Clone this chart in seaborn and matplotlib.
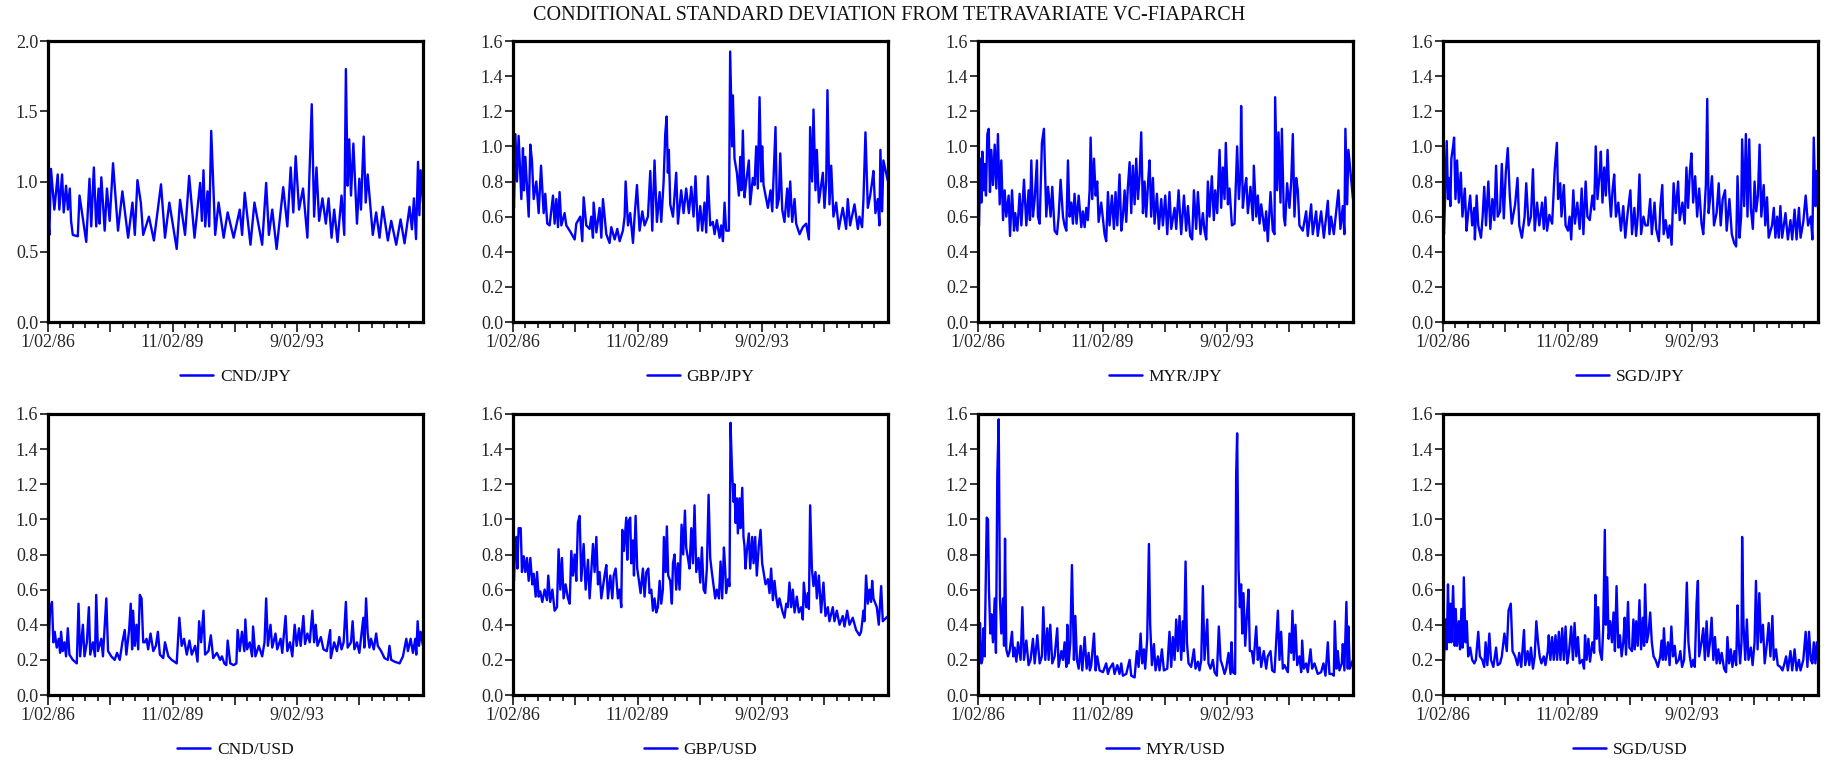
import numpy as np
import matplotlib
matplotlib.use("Agg")
import matplotlib.pyplot as plt
from matplotlib.ticker import FixedLocator, FuncFormatter, MultipleLocator
import seaborn as sns

# Observation index (business days from 1/02/86) and conditional standard deviations
cnd_jpy_obs = [0, 11, 24, 51, 78, 91, 113, 126, 145, 160, 175, 185, 199, 239, 253, 307, 333, 347, 368, 387, 406, 414, 428, 455, 473, 495, 522, 562, 597, 643, 678, 697, 718, 745, 764, 810, 850, 907, 939, 974, 1033, 1060, 1100, 1133, 1176, 1221, 1235, 1248, 1262, 1280, 1294, 1310, 1342, 1369, 1410, 1442, 1490, 1539, 1558, 1579, 1625, 1657, 1719, 1751, 1773, 1800, 1835, 1888, 1921, 1948, 1969, 1988, 2015, 2047, 2082, 2117, 2136, 2155, 2176, 2203, 2230, 2252, 2276, 2297, 2324, 2356, 2378, 2391, 2405, 2418, 2432, 2451, 2480, 2499, 2512, 2534, 2550, 2566, 2607, 2634, 2661, 2687, 2728, 2755, 2795, 2830, 2862, 2902, 2921, 2937, 2954, 2970, 2981, 2991, 3010]
cnd_jpy_sd = [0.76, 0.62, 1.09, 0.80, 1.05, 0.80, 1.05, 0.78, 0.97, 0.80, 0.95, 0.72, 0.62, 0.61, 0.90, 0.57, 1.02, 0.68, 1.10, 0.68, 0.95, 0.70, 1.03, 0.65, 0.95, 0.72, 1.13, 0.65, 0.93, 0.60, 0.85, 0.62, 1.01, 0.85, 0.62, 0.75, 0.58, 0.98, 0.60, 0.85, 0.52, 0.87, 0.62, 1.04, 0.60, 0.99, 0.72, 1.08, 0.68, 0.93, 0.68, 1.36, 0.62, 0.85, 0.60, 0.78, 0.60, 0.80, 0.62, 0.92, 0.55, 0.85, 0.55, 0.99, 0.62, 0.80, 0.52, 0.96, 0.68, 1.10, 0.78, 1.18, 0.80, 0.95, 0.60, 1.55, 0.75, 1.10, 0.72, 0.88, 0.70, 0.88, 0.60, 0.80, 0.57, 0.90, 0.62, 1.80, 0.97, 1.30, 0.90, 1.27, 0.70, 1.02, 0.80, 1.32, 0.85, 1.05, 0.62, 0.78, 0.60, 0.82, 0.58, 0.72, 0.55, 0.73, 0.56, 0.82, 0.66, 0.88, 0.59, 1.14, 0.76, 1.08, 0.85]

gbp_jpy_obs = [0, 8, 19, 32, 45, 67, 80, 88, 99, 126, 139, 152, 166, 187, 206, 225, 246, 259, 275, 294, 321, 334, 348, 361, 374, 388, 414, 428, 455, 495, 508, 540, 556, 567, 588, 615, 628, 642, 647, 669, 695, 709, 722, 749, 775, 789, 816, 837, 856, 882, 896, 904, 923, 941, 963, 976, 995, 1016, 1038, 1056, 1083, 1102, 1118, 1136, 1155, 1177, 1190, 1209, 1222, 1233, 1243, 1251, 1262, 1284, 1310, 1324, 1350, 1369, 1390, 1412, 1431, 1449, 1465, 1484, 1503, 1519, 1537, 1551, 1564, 1583, 1604, 1618, 1636, 1658, 1671, 1685, 1698, 1711, 1733, 1743, 1759, 1765, 1778, 1797, 1813, 1824, 1834, 1845, 1858, 1872, 1893, 1904, 1925, 1939, 1952, 1965, 1979, 1992, 2000, 2011, 2027, 2046, 2067, 2081, 2107, 2118, 2134, 2145, 2161, 2179, 2201, 2211, 2225, 2241, 2260, 2273, 2300, 2326, 2353, 2375, 2385, 2401, 2412, 2428, 2439, 2455, 2487, 2500, 2514, 2524, 2540, 2554, 2572, 2594, 2615, 2647, 2674, 2687, 2706, 2741, 2768, 2781, 2802, 2813, 2829, 2848, 2867, 2883, 2893, 2909, 2928, 2941, 2949, 2963, 2973, 3010]
gbp_jpy_sd = [0.70, 0.65, 1.07, 0.80, 1.06, 0.70, 0.99, 0.75, 0.94, 0.60, 1.01, 0.92, 0.70, 0.80, 0.62, 0.89, 0.62, 0.73, 0.56, 0.55, 0.72, 0.56, 0.70, 0.54, 0.74, 0.55, 0.62, 0.55, 0.52, 0.47, 0.56, 0.60, 0.46, 0.71, 0.55, 0.53, 0.60, 0.48, 0.68, 0.51, 0.65, 0.48, 0.70, 0.50, 0.45, 0.54, 0.47, 0.53, 0.46, 0.52, 0.60, 0.80, 0.55, 0.62, 0.45, 0.60, 0.78, 0.52, 0.63, 0.55, 0.60, 0.86, 0.52, 0.92, 0.57, 0.74, 0.57, 0.80, 1.07, 1.17, 0.85, 0.98, 0.67, 0.60, 0.85, 0.56, 0.75, 0.62, 0.76, 0.62, 0.77, 0.60, 0.83, 0.52, 0.66, 0.52, 0.68, 0.51, 0.83, 0.55, 0.57, 0.50, 0.58, 0.48, 0.55, 0.46, 0.68, 0.52, 0.52, 1.54, 1.00, 1.29, 0.93, 0.85, 0.72, 0.94, 0.75, 1.09, 0.71, 0.80, 0.92, 0.67, 0.82, 0.78, 1.00, 0.76, 1.28, 0.80, 1.00, 0.78, 0.72, 0.65, 0.75, 0.63, 1.11, 0.65, 0.70, 0.96, 0.64, 0.57, 0.76, 0.60, 0.80, 0.57, 0.70, 0.56, 0.50, 0.54, 0.56, 0.47, 1.11, 0.80, 1.21, 0.75, 0.98, 0.68, 0.85, 0.65, 0.80, 1.32, 0.67, 0.89, 0.60, 0.68, 0.53, 0.65, 0.53, 0.70, 0.55, 0.67, 0.53, 0.60, 0.54, 0.70, 1.08, 0.65, 0.72, 0.80, 0.86, 0.62, 0.70, 0.55, 0.98, 0.63, 0.92, 0.80]

myr_jpy_obs = [0, 8, 19, 27, 35, 45, 53, 64, 75, 86, 96, 107, 120, 134, 147, 160, 174, 187, 201, 214, 227, 246, 257, 273, 289, 299, 316, 334, 348, 369, 388, 406, 417, 428, 441, 455, 473, 481, 495, 513, 529, 548, 562, 583, 596, 615, 634, 647, 663, 682, 695, 709, 722, 735, 749, 762, 775, 791, 808, 829, 842, 856, 869, 882, 896, 904, 917, 931, 944, 957, 968, 989, 1016, 1029, 1043, 1056, 1075, 1091, 1104, 1118, 1136, 1150, 1163, 1177, 1190, 1203, 1217, 1230, 1243, 1257, 1270, 1284, 1297, 1310, 1324, 1337, 1350, 1364, 1377, 1390, 1404, 1417, 1436, 1452, 1471, 1484, 1503, 1519, 1537, 1551, 1578, 1591, 1610, 1631, 1653, 1671, 1685, 1703, 1719, 1733, 1751, 1765, 1786, 1805, 1818, 1832, 1845, 1858, 1877, 1893, 1904, 1920, 1939, 1952, 1965, 1979, 1989, 2006, 2019, 2038, 2059, 2080, 2094, 2107, 2112, 2126, 2139, 2153, 2166, 2187, 2206, 2214, 2233, 2246, 2260, 2273, 2300, 2313, 2326, 2348, 2366, 2380, 2385, 2401, 2412, 2428, 2439, 2455, 2465, 2481, 2500, 2514, 2527, 2540, 2554, 2567, 2580, 2607, 2634, 2647, 2674, 2687, 2714, 2727, 2754, 2776, 2794, 2808, 2821, 2834, 2856, 2874, 2893, 2909, 2928, 2941, 2949, 2963, 2973, 3010]
myr_jpy_sd = [0.60, 0.55, 0.93, 0.68, 0.97, 0.75, 0.90, 0.72, 1.07, 1.10, 0.74, 0.98, 0.78, 1.01, 0.76, 1.07, 0.67, 0.92, 0.58, 0.75, 0.60, 0.72, 0.49, 0.75, 0.52, 0.62, 0.52, 0.73, 0.55, 0.81, 0.55, 0.75, 0.58, 0.92, 0.60, 0.70, 0.92, 0.60, 0.56, 1.02, 1.10, 0.60, 0.77, 0.60, 0.77, 0.52, 0.50, 0.60, 0.81, 0.60, 0.55, 0.52, 0.92, 0.60, 0.68, 0.56, 0.73, 0.56, 0.72, 0.54, 0.63, 0.54, 0.65, 0.58, 0.75, 1.05, 0.70, 0.93, 0.72, 0.80, 0.57, 0.68, 0.50, 0.46, 0.74, 0.55, 0.72, 0.53, 0.74, 0.55, 0.84, 0.52, 0.60, 0.75, 0.57, 0.77, 0.91, 0.62, 0.89, 0.67, 0.93, 0.70, 0.83, 1.08, 0.62, 0.80, 0.60, 0.78, 0.92, 0.60, 0.82, 0.56, 0.73, 0.53, 0.70, 0.55, 0.72, 0.50, 0.74, 0.53, 0.65, 0.53, 0.75, 0.50, 0.72, 0.52, 0.66, 0.49, 0.47, 0.75, 0.53, 0.74, 0.50, 0.62, 0.52, 0.47, 0.80, 0.60, 0.83, 0.58, 0.75, 0.62, 0.98, 0.65, 0.88, 0.70, 1.02, 0.67, 0.76, 0.55, 0.56, 1.00, 0.70, 0.85, 1.23, 0.65, 0.75, 0.82, 0.62, 0.77, 0.58, 0.89, 0.60, 0.72, 0.56, 0.67, 0.52, 0.63, 0.46, 0.74, 0.52, 0.50, 1.28, 0.75, 1.08, 0.68, 1.10, 0.60, 0.55, 0.79, 0.65, 0.80, 1.07, 0.60, 0.82, 0.75, 0.55, 0.52, 0.63, 0.49, 0.67, 0.50, 0.63, 0.49, 0.63, 0.48, 0.60, 0.69, 0.50, 0.60, 0.50, 0.62, 0.75, 0.53, 0.66, 0.50, 1.10, 0.67, 0.98, 0.70]

sgd_jpy_obs = [0, 8, 22, 30, 40, 49, 59, 67, 81, 89, 100, 113, 127, 143, 156, 175, 189, 202, 218, 234, 251, 256, 270, 283, 305, 318, 331, 345, 364, 380, 396, 412, 426, 439, 458, 472, 488, 504, 520, 536, 552, 579, 598, 612, 633, 655, 668, 687, 706, 722, 736, 755, 773, 795, 809, 822, 835, 854, 876, 897, 914, 924, 941, 951, 970, 984, 1003, 1016, 1029, 1046, 1059, 1078, 1097, 1113, 1127, 1145, 1159, 1178, 1199, 1213, 1226, 1240, 1258, 1267, 1280, 1294, 1307, 1321, 1334, 1348, 1361, 1374, 1388, 1407, 1428, 1447, 1463, 1482, 1504, 1517, 1536, 1550, 1563, 1577, 1590, 1609, 1625, 1644, 1663, 1676, 1698, 1711, 1733, 1744, 1760, 1771, 1787, 1806, 1819, 1835, 1851, 1868, 1887, 1900, 1922, 1940, 1954, 1967, 1981, 1994, 2008, 2024, 2040, 2056, 2075, 2089, 2110, 2121, 2132, 2143, 2159, 2175, 2196, 2213, 2229, 2245, 2264, 2277, 2299, 2318, 2337, 2353, 2364, 2380, 2393, 2401, 2417, 2431, 2444, 2458, 2471, 2487, 2501, 2514, 2528, 2541, 2555, 2574, 2587, 2601, 2614, 2641, 2655, 2668, 2682, 2695, 2708, 2722, 2749, 2768, 2789, 2803, 2822, 2838, 2857, 2870, 2892, 2911, 2930, 2952, 2965, 2976, 2989, 3000, 3010]
sgd_jpy_sd = [0.63, 0.50, 0.83, 1.03, 0.70, 0.82, 0.66, 0.93, 1.00, 1.05, 0.70, 0.92, 0.68, 0.85, 0.60, 0.76, 0.52, 0.62, 0.72, 0.55, 0.65, 0.47, 0.72, 0.55, 0.48, 0.60, 0.77, 0.55, 0.80, 0.53, 0.70, 0.58, 0.89, 0.60, 0.63, 0.90, 0.59, 0.85, 0.99, 0.72, 0.56, 0.67, 0.82, 0.55, 0.48, 0.60, 0.79, 0.55, 0.60, 0.87, 0.52, 0.68, 0.55, 0.68, 0.53, 0.71, 0.52, 0.61, 0.56, 0.87, 1.02, 0.70, 0.79, 0.60, 0.78, 0.55, 0.52, 0.60, 0.47, 0.75, 0.56, 0.68, 0.53, 0.76, 0.50, 0.80, 0.60, 0.58, 0.72, 0.64, 1.00, 0.70, 0.85, 0.97, 0.68, 0.88, 0.72, 0.98, 0.75, 0.60, 0.75, 0.84, 0.60, 0.68, 0.52, 0.66, 0.48, 0.62, 0.75, 0.50, 0.65, 0.49, 0.60, 0.84, 0.50, 0.60, 0.55, 0.55, 0.70, 0.50, 0.68, 0.53, 0.46, 0.65, 0.78, 0.50, 0.58, 0.48, 0.55, 0.44, 0.79, 0.62, 0.80, 0.58, 0.68, 0.56, 0.88, 0.65, 0.85, 0.96, 0.68, 0.83, 0.60, 0.76, 0.56, 0.50, 0.78, 1.27, 0.62, 0.70, 0.83, 0.55, 0.62, 0.79, 0.55, 0.70, 0.75, 0.52, 0.70, 0.50, 0.45, 0.43, 0.83, 0.48, 0.60, 1.04, 0.66, 1.07, 0.60, 1.04, 0.65, 0.53, 0.80, 0.63, 0.72, 1.01, 0.60, 0.78, 0.55, 0.71, 0.48, 0.55, 0.65, 0.48, 0.60, 0.48, 0.66, 0.48, 0.62, 0.47, 0.58, 0.47, 0.64, 0.47, 0.65, 0.48, 0.57, 0.72, 0.55, 0.60, 0.47, 1.05, 0.66, 0.86, 0.65]

cnd_usd_obs = [0, 5, 16, 32, 43, 54, 70, 86, 97, 105, 118, 132, 145, 159, 172, 199, 231, 245, 258, 280, 293, 312, 328, 339, 360, 377, 387, 401, 428, 441, 468, 482, 508, 535, 554, 576, 597, 616, 629, 651, 664, 675, 683, 697, 710, 724, 737, 751, 764, 777, 791, 804, 823, 845, 866, 882, 898, 925, 939, 966, 993, 1033, 1054, 1073, 1092, 1114, 1135, 1154, 1181, 1200, 1213, 1229, 1248, 1261, 1288, 1307, 1326, 1355, 1382, 1396, 1415, 1431, 1442, 1463, 1490, 1512, 1522, 1539, 1557, 1576, 1584, 1598, 1619, 1638, 1646, 1665, 1692, 1719, 1738, 1751, 1765, 1786, 1800, 1826, 1840, 1867, 1880, 1907, 1921, 1942, 1961, 1980, 1996, 2015, 2028, 2050, 2063, 2082, 2101, 2122, 2136, 2149, 2163, 2190, 2211, 2238, 2265, 2270, 2297, 2319, 2338, 2356, 2373, 2391, 2405, 2432, 2445, 2459, 2480, 2499, 2531, 2539, 2553, 2566, 2580, 2593, 2615, 2634, 2647, 2674, 2701, 2728, 2741, 2755, 2781, 2822, 2849, 2876, 2889, 2911, 2929, 2948, 2956, 2967, 2978, 2991, 3010]
cnd_usd_sd = [0.30, 0.27, 0.48, 0.53, 0.30, 0.36, 0.27, 0.32, 0.24, 0.36, 0.25, 0.30, 0.22, 0.38, 0.23, 0.20, 0.18, 0.52, 0.22, 0.40, 0.22, 0.30, 0.50, 0.23, 0.30, 0.22, 0.57, 0.25, 0.32, 0.22, 0.55, 0.25, 0.22, 0.20, 0.24, 0.20, 0.30, 0.37, 0.23, 0.37, 0.52, 0.26, 0.48, 0.28, 0.40, 0.26, 0.57, 0.55, 0.30, 0.30, 0.32, 0.26, 0.35, 0.25, 0.28, 0.36, 0.23, 0.21, 0.30, 0.22, 0.20, 0.18, 0.44, 0.28, 0.32, 0.23, 0.31, 0.23, 0.28, 0.19, 0.42, 0.30, 0.48, 0.23, 0.25, 0.34, 0.21, 0.24, 0.20, 0.22, 0.18, 0.17, 0.31, 0.18, 0.17, 0.18, 0.37, 0.25, 0.36, 0.25, 0.43, 0.26, 0.30, 0.22, 0.39, 0.22, 0.28, 0.22, 0.30, 0.55, 0.28, 0.40, 0.27, 0.35, 0.26, 0.32, 0.24, 0.45, 0.25, 0.30, 0.22, 0.40, 0.28, 0.38, 0.28, 0.45, 0.29, 0.35, 0.30, 0.48, 0.30, 0.40, 0.28, 0.33, 0.26, 0.25, 0.37, 0.21, 0.30, 0.25, 0.33, 0.26, 0.30, 0.53, 0.27, 0.30, 0.42, 0.26, 0.30, 0.24, 0.44, 0.27, 0.55, 0.35, 0.27, 0.32, 0.26, 0.35, 0.28, 0.25, 0.21, 0.20, 0.28, 0.20, 0.19, 0.18, 0.22, 0.32, 0.25, 0.32, 0.24, 0.32, 0.23, 0.42, 0.28, 0.36, 0.28]

gbp_usd_obs = [0, 8, 16, 27, 35, 45, 62, 72, 86, 99, 112, 126, 139, 155, 166, 182, 193, 206, 219, 235, 254, 273, 283, 299, 316, 334, 353, 366, 380, 393, 406, 422, 441, 455, 468, 481, 495, 508, 521, 535, 548, 567, 583, 602, 615, 628, 642, 655, 669, 682, 695, 709, 735, 749, 762, 781, 797, 808, 824, 842, 856, 869, 877, 890, 901, 909, 917, 928, 941, 949, 963, 971, 984, 997, 1011, 1024, 1043, 1056, 1070, 1086, 1096, 1110, 1123, 1136, 1150, 1163, 1177, 1190, 1203, 1211, 1225, 1235, 1246, 1262, 1275, 1284, 1297, 1310, 1324, 1337, 1353, 1366, 1380, 1390, 1404, 1417, 1431, 1444, 1457, 1471, 1489, 1503, 1516, 1530, 1543, 1556, 1570, 1583, 1596, 1610, 1623, 1636, 1653, 1666, 1679, 1693, 1703, 1711, 1727, 1738, 1746, 1757, 1770, 1778, 1786, 1797, 1805, 1818, 1826, 1840, 1850, 1858, 1866, 1877, 1893, 1904, 1920, 1931, 1944, 1957, 1973, 1987, 2000, 2011, 2027, 2046, 2059, 2072, 2086, 2099, 2112, 2126, 2139, 2161, 2179, 2193, 2206, 2219, 2233, 2246, 2260, 2278, 2294, 2313, 2326, 2334, 2353, 2366, 2375, 2385, 2399, 2412, 2428, 2439, 2455, 2473, 2492, 2508, 2527, 2540, 2567, 2580, 2599, 2621, 2647, 2661, 2682, 2701, 2727, 2754, 2781, 2794, 2813, 2821, 2834, 2848, 2861, 2874, 2883, 2893, 2909, 2920, 2936, 2955, 2968, 3010]
gbp_usd_sd = [0.70, 0.65, 0.82, 0.90, 0.72, 0.95, 0.95, 0.70, 0.79, 0.70, 0.78, 0.65, 0.78, 0.63, 0.69, 0.56, 0.70, 0.56, 0.59, 0.53, 0.60, 0.54, 0.68, 0.53, 0.60, 0.48, 0.50, 0.83, 0.60, 0.78, 0.55, 0.63, 0.55, 0.52, 0.82, 0.68, 0.80, 0.65, 0.98, 1.02, 0.65, 0.86, 0.60, 0.77, 0.55, 0.70, 0.86, 0.70, 0.90, 0.63, 0.70, 0.55, 0.68, 0.74, 0.55, 0.68, 0.55, 0.68, 0.72, 0.55, 0.60, 0.50, 0.94, 0.82, 0.93, 1.01, 0.77, 0.99, 1.01, 0.75, 0.88, 0.68, 1.02, 0.72, 0.65, 0.58, 0.72, 0.56, 0.70, 0.72, 0.58, 0.60, 0.48, 0.55, 0.47, 0.50, 0.65, 0.52, 0.60, 0.90, 0.70, 0.96, 0.68, 0.65, 0.52, 0.75, 0.80, 0.60, 0.75, 0.60, 0.97, 0.80, 1.05, 0.84, 0.78, 0.72, 0.95, 0.75, 1.08, 0.70, 0.78, 0.64, 0.84, 0.60, 0.58, 0.72, 1.14, 0.78, 0.70, 0.62, 0.55, 0.60, 0.55, 0.76, 0.55, 0.84, 0.72, 0.58, 0.66, 0.62, 1.55, 1.30, 1.10, 1.20, 0.98, 1.12, 0.92, 1.12, 0.95, 1.18, 0.90, 0.85, 0.72, 0.82, 0.92, 0.72, 0.90, 0.75, 0.90, 0.68, 0.85, 0.94, 0.75, 0.70, 0.63, 0.66, 0.58, 0.72, 0.54, 0.65, 0.56, 0.50, 0.55, 0.48, 0.44, 0.52, 0.50, 0.64, 0.50, 0.60, 0.47, 0.56, 0.47, 0.50, 0.43, 0.64, 0.50, 0.58, 0.49, 1.08, 0.72, 0.62, 0.70, 0.55, 0.68, 0.47, 0.64, 0.45, 0.50, 0.42, 0.50, 0.42, 0.48, 0.40, 0.45, 0.39, 0.48, 0.40, 0.44, 0.37, 0.34, 0.36, 0.48, 0.42, 0.68, 0.52, 0.60, 0.53, 0.65, 0.55, 0.52, 0.50, 0.40, 0.62, 0.42, 0.45]

myr_usd_obs = [0, 8, 16, 27, 35, 45, 53, 62, 70, 80, 88, 99, 107, 120, 134, 144, 155, 166, 176, 187, 201, 209, 217, 227, 241, 254, 273, 283, 294, 308, 321, 342, 356, 369, 388, 406, 422, 441, 455, 476, 495, 513, 524, 540, 556, 567, 580, 596, 615, 636, 647, 669, 682, 695, 709, 717, 727, 741, 754, 770, 781, 794, 808, 824, 837, 856, 872, 888, 898, 909, 931, 944, 957, 976, 1003, 1029, 1043, 1056, 1083, 1096, 1118, 1136, 1150, 1163, 1190, 1217, 1230, 1257, 1275, 1289, 1305, 1318, 1332, 1342, 1358, 1372, 1382, 1396, 1412, 1425, 1444, 1457, 1476, 1492, 1519, 1537, 1551, 1564, 1578, 1591, 1604, 1618, 1631, 1645, 1653, 1666, 1677, 1690, 1711, 1733, 1746, 1765, 1778, 1792, 1805, 1818, 1840, 1850, 1866, 1885, 1899, 1917, 1933, 1947, 1965, 1979, 1992, 2011, 2027, 2035, 2046, 2064, 2072, 2080, 2091, 2102, 2112, 2121, 2131, 2145, 2158, 2171, 2182, 2198, 2211, 2233, 2246, 2260, 2273, 2294, 2313, 2326, 2348, 2361, 2380, 2393, 2407, 2420, 2433, 2447, 2460, 2487, 2500, 2514, 2524, 2535, 2548, 2562, 2580, 2594, 2602, 2615, 2634, 2647, 2669, 2682, 2701, 2727, 2754, 2773, 2789, 2808, 2821, 2840, 2856, 2864, 2877, 2888, 2901, 2920, 2928, 2941, 2957, 2968, 2973, 2984, 3010]
myr_usd_sd = [0.25, 0.20, 0.41, 0.18, 0.20, 0.38, 0.22, 0.66, 1.01, 1.00, 0.60, 0.35, 0.46, 0.30, 0.55, 0.24, 1.25, 1.57, 0.55, 0.35, 0.55, 0.28, 0.89, 0.26, 0.22, 0.25, 0.36, 0.22, 0.27, 0.19, 0.30, 0.20, 0.50, 0.20, 0.31, 0.17, 0.20, 0.32, 0.18, 0.34, 0.18, 0.22, 0.50, 0.20, 0.38, 0.20, 0.40, 0.18, 0.22, 0.38, 0.16, 0.25, 0.20, 0.30, 0.16, 0.40, 0.18, 0.30, 0.74, 0.20, 0.45, 0.20, 0.15, 0.28, 0.14, 0.33, 0.15, 0.24, 0.14, 0.17, 0.35, 0.14, 0.22, 0.14, 0.13, 0.18, 0.12, 0.15, 0.18, 0.12, 0.17, 0.12, 0.18, 0.11, 0.12, 0.20, 0.11, 0.10, 0.25, 0.16, 0.35, 0.18, 0.26, 0.15, 0.32, 0.86, 0.40, 0.17, 0.29, 0.14, 0.22, 0.14, 0.26, 0.14, 0.15, 0.36, 0.16, 0.33, 0.20, 0.43, 0.25, 0.45, 0.20, 0.42, 0.25, 0.76, 0.30, 0.18, 0.16, 0.26, 0.15, 0.19, 0.14, 0.20, 0.62, 0.20, 0.43, 0.18, 0.15, 0.20, 0.13, 0.11, 0.39, 0.20, 0.16, 0.12, 0.15, 0.24, 0.12, 0.30, 0.13, 0.12, 1.25, 1.49, 0.72, 0.50, 0.63, 0.35, 0.58, 0.28, 0.45, 0.60, 0.25, 0.25, 0.18, 0.39, 0.20, 0.27, 0.16, 0.25, 0.15, 0.22, 0.25, 0.14, 0.13, 0.30, 0.48, 0.20, 0.36, 0.15, 0.17, 0.13, 0.35, 0.24, 0.48, 0.20, 0.40, 0.17, 0.22, 0.13, 0.31, 0.15, 0.18, 0.13, 0.26, 0.15, 0.18, 0.12, 0.13, 0.18, 0.11, 0.30, 0.12, 0.12, 0.11, 0.42, 0.15, 0.25, 0.14, 0.18, 0.29, 0.14, 0.53, 0.15, 0.39, 0.15, 0.20]

sgd_usd_obs = [0, 8, 19, 30, 40, 49, 59, 67, 81, 94, 102, 113, 127, 137, 148, 159, 167, 181, 191, 202, 218, 234, 251, 264, 283, 296, 315, 331, 342, 356, 372, 385, 404, 426, 439, 458, 472, 493, 512, 526, 544, 558, 579, 598, 612, 628, 650, 660, 679, 693, 706, 722, 736, 749, 763, 776, 790, 809, 822, 841, 849, 862, 876, 889, 903, 916, 930, 943, 957, 970, 984, 997, 1011, 1029, 1043, 1056, 1070, 1083, 1097, 1118, 1132, 1140, 1153, 1167, 1180, 1199, 1213, 1223, 1234, 1245, 1259, 1275, 1286, 1299, 1307, 1318, 1329, 1342, 1356, 1369, 1380, 1393, 1407, 1420, 1434, 1447, 1458, 1469, 1485, 1496, 1517, 1528, 1539, 1550, 1563, 1577, 1590, 1604, 1614, 1622, 1636, 1649, 1663, 1676, 1690, 1706, 1725, 1744, 1754, 1765, 1773, 1787, 1806, 1819, 1833, 1846, 1860, 1873, 1892, 1905, 1919, 1935, 1946, 1957, 1970, 1981, 1994, 2008, 2021, 2035, 2046, 2056, 2075, 2089, 2102, 2116, 2129, 2143, 2156, 2170, 2183, 2196, 2210, 2223, 2237, 2256, 2272, 2283, 2296, 2310, 2323, 2339, 2353, 2364, 2374, 2385, 2396, 2401, 2412, 2426, 2439, 2452, 2471, 2485, 2501, 2512, 2525, 2539, 2552, 2568, 2582, 2601, 2614, 2628, 2644, 2655, 2673, 2687, 2708, 2725, 2741, 2754, 2768, 2789, 2803, 2822, 2838, 2857, 2870, 2892, 2911, 2925, 2938, 2952, 2965, 2976, 2989, 3000, 3010]
sgd_usd_sd = [0.28, 0.20, 0.43, 0.26, 0.63, 0.30, 0.52, 0.30, 0.62, 0.28, 0.49, 0.28, 0.42, 0.26, 0.49, 0.27, 0.67, 0.30, 0.42, 0.22, 0.27, 0.20, 0.18, 0.20, 0.36, 0.22, 0.20, 0.16, 0.30, 0.17, 0.35, 0.20, 0.16, 0.27, 0.17, 0.18, 0.22, 0.35, 0.25, 0.48, 0.52, 0.25, 0.22, 0.17, 0.24, 0.16, 0.37, 0.17, 0.25, 0.17, 0.27, 0.15, 0.22, 0.42, 0.30, 0.22, 0.18, 0.22, 0.17, 0.25, 0.34, 0.20, 0.33, 0.20, 0.34, 0.20, 0.36, 0.20, 0.38, 0.20, 0.39, 0.18, 0.24, 0.39, 0.20, 0.41, 0.22, 0.33, 0.18, 0.20, 0.15, 0.34, 0.20, 0.32, 0.19, 0.30, 0.24, 0.57, 0.32, 0.50, 0.25, 0.20, 0.38, 0.94, 0.40, 0.67, 0.32, 0.42, 0.30, 0.47, 0.25, 0.62, 0.27, 0.34, 0.22, 0.30, 0.44, 0.23, 0.53, 0.27, 0.25, 0.43, 0.26, 0.42, 0.28, 0.54, 0.26, 0.44, 0.28, 0.63, 0.30, 0.35, 0.47, 0.30, 0.22, 0.20, 0.16, 0.22, 0.31, 0.20, 0.38, 0.20, 0.30, 0.17, 0.39, 0.22, 0.28, 0.18, 0.20, 0.25, 0.16, 0.20, 0.38, 0.64, 0.30, 0.22, 0.16, 0.20, 0.16, 0.52, 0.65, 0.22, 0.30, 0.38, 0.20, 0.42, 0.22, 0.30, 0.44, 0.20, 0.33, 0.18, 0.26, 0.18, 0.24, 0.15, 0.13, 0.33, 0.18, 0.26, 0.16, 0.25, 0.17, 0.51, 0.30, 0.18, 0.30, 0.90, 0.40, 0.20, 0.43, 0.20, 0.27, 0.17, 0.30, 0.65, 0.26, 0.58, 0.30, 0.40, 0.18, 0.30, 0.41, 0.22, 0.45, 0.20, 0.26, 0.17, 0.16, 0.14, 0.18, 0.22, 0.14, 0.25, 0.14, 0.26, 0.14, 0.20, 0.14, 0.20, 0.36, 0.16, 0.36, 0.20, 0.18, 0.30, 0.18, 0.30, 0.20]

pair_names = ["CND/JPY", "GBP/JPY", "MYR/JPY", "SGD/JPY",
              "CND/USD", "GBP/USD", "MYR/USD", "SGD/USD"]
date_labels = {0: "1/02/86", 1000: "11/02/89", 2000: "9/02/93"}
last_obs = 3010
title_text = "CONDITIONAL STANDARD DEVIATION FROM TETRAVARIATE VC-FIAPARCH"

series = [
    (cnd_jpy_obs, cnd_jpy_sd), (gbp_jpy_obs, gbp_jpy_sd),
    (myr_jpy_obs, myr_jpy_sd), (sgd_jpy_obs, sgd_jpy_sd),
    (cnd_usd_obs, cnd_usd_sd), (gbp_usd_obs, gbp_usd_sd),
    (myr_usd_obs, myr_usd_sd), (sgd_usd_obs, sgd_usd_sd),
]
y_limits = [(2.0, 0.5)] + [(1.6, 0.2)] * 7

sns.set_style("white")
plt.rcParams["font.family"] = ["Liberation Serif", "DejaVu Serif"]
plt.rcParams["text.color"] = "#111111"

W, H = 1826, 761
fig = plt.figure(figsize=(W / 100, H / 100), dpi=100)
fig.patch.set_facecolor("white")

lefts = [48, 513, 978, 1443]
tops = [41, 414]
ax_w, ax_h = 375, 281

for k, ((obs, sd), name, (ymax, ystep)) in enumerate(zip(series, pair_names, y_limits)):
    r, c = divmod(k, 4)
    ax = fig.add_axes([lefts[c] / W, 1 - (tops[r] + ax_h) / H, ax_w / W, ax_h / H])
    sns.lineplot(x=obs, y=sd, ax=ax, color="#0000FF", linewidth=1.7,
                 estimator=None, sort=False, label=name)
    ax.set_xlim(0, last_obs)
    ax.set_ylim(0, ymax)
    ax.set_xlabel("")
    ax.set_ylabel("")
    for sp in ax.spines.values():
        sp.set_visible(True)
        sp.set_linewidth(2.3)
        sp.set_color("black")

    ax.yaxis.set_major_locator(MultipleLocator(ystep))
    ax.yaxis.set_major_formatter(FuncFormatter(lambda v, p: f"{v:.1f}"))
    ax.xaxis.set_major_locator(FixedLocator(list(range(0, 3000, 500))))
    ax.xaxis.set_minor_locator(FixedLocator([t for t in range(0, 3000, 100) if t % 500]))
    ax.xaxis.set_major_formatter(FuncFormatter(lambda v, p: date_labels.get(int(round(v)), "")))

    ax.tick_params(axis="y", which="major", direction="out", length=5.5, width=1.1,
                   color="black", labelsize=13, pad=1.5, left=True)
    ax.tick_params(axis="x", which="major", direction="out", length=7.5, width=1.1,
                   color="black", labelsize=13, pad=1.0, bottom=True)
    ax.tick_params(axis="x", which="minor", direction="out", length=4.5, width=1.1,
                   color="black", bottom=True)

    leg = ax.legend(loc="center", bbox_to_anchor=(0.5, -0.195), frameon=False,
                    fontsize=12.5, handlelength=1.9, handletextpad=0.4)
    for h in leg.get_lines():
        h.set_linewidth(1.8)

fig.text(889 / W, 1 - 15 / H, title_text, ha="center", va="center", fontsize=14.5)

fig.savefig("out.png", dpi=100, facecolor="white")
